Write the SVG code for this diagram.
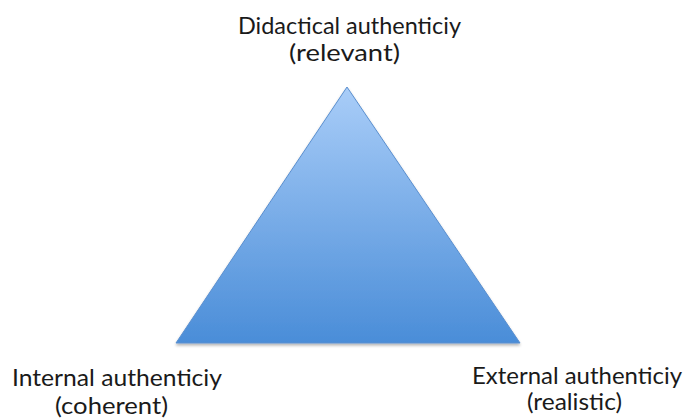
<svg xmlns="http://www.w3.org/2000/svg" width="685" height="419" viewBox="0 0 685 419">
  <defs>
    <linearGradient id="fillGrad" x1="0" y1="0" x2="0" y2="1">
      <stop offset="0" stop-color="#a9cdf8"/>
      <stop offset="1" stop-color="#4a8dd8"/>
    </linearGradient>
    <filter id="shadow" x="-10%" y="-10%" width="120%" height="130%">
      <feGaussianBlur in="SourceAlpha" stdDeviation="1.5"/>
      <feOffset dx="0" dy="2" result="b"/>
      <feComponentTransfer><feFuncA type="linear" slope="0.3"/></feComponentTransfer>
      <feMerge><feMergeNode/><feMergeNode in="SourceGraphic"/></feMerge>
    </filter>
  </defs>
  <style>
    .lbl { font-family: "Lato", "Open Sans", "Liberation Sans", sans-serif; font-size: 23px; fill: #1a1a1a; text-anchor: middle; }
    .tri { fill: url(#fillGrad); stroke: #5a8fcf; stroke-width: 1; filter: url(#shadow); }
  </style>
  <rect width="685" height="419" fill="#ffffff"/>
  <g id="triangle">
    <polygon class="tri" points="347,87 176,343 520,343"/>
  </g>
  <g id="connectors"></g>
  <g id="didactical">
    <text class="lbl" x="349.5" y="34" textLength="223" lengthAdjust="spacingAndGlyphs">Didactical authenticiy</text>
    <text class="lbl" x="344.5" y="61" textLength="111" lengthAdjust="spacingAndGlyphs">(relevant)</text>
  </g>
  <g id="internal">
    <text class="lbl" x="117" y="386" textLength="210" lengthAdjust="spacingAndGlyphs">Internal authenticiy</text>
    <text class="lbl" x="111.5" y="414" textLength="113" lengthAdjust="spacingAndGlyphs">(coherent)</text>
  </g>
  <g id="external">
    <text class="lbl" x="577" y="384" textLength="210" lengthAdjust="spacingAndGlyphs">External authenticiy</text>
    <text class="lbl" x="574.5" y="410" textLength="95" lengthAdjust="spacingAndGlyphs">(realistic)</text>
  </g>
</svg>
